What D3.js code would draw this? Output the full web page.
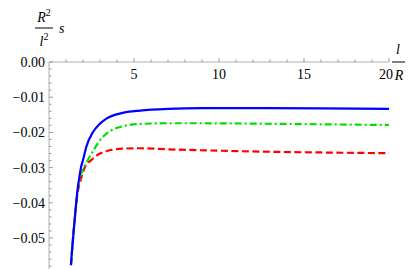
<!DOCTYPE html>
<html>
<head>
<meta charset="utf-8">
<script src="https://cdn.jsdelivr.net/npm/d3@7"></script>
<style>
  body { margin: 0; background: #fff; }
  svg { display: block; }
</style>
</head>
<body>
<svg id="chart"></svg>
<script>
var width = 416; // size of the page
var height = 269;
var fontFamily = "'Liberation Serif', 'Times New Roman', Times, 'DejaVu Serif', serif";

// tick values of both axes
var xMajorTicks = [5, 10, 15, 20];
var xMinorTicks = d3.range(1, 21);
var yMajorTicks = [0, -0.01, -0.02, -0.03, -0.04, -0.05];
var yMinorTicks = d3.range(0, -0.0589, -0.002);

// curves: [l/R, R^2 s / l^2]
var blueSeries = [[1.29,-0.0577],[1.38,-0.052],[1.47,-0.047],[1.57,-0.0415],[1.66,-0.037],[1.76,-0.0335],
  [1.88,-0.030],[2.02,-0.0275],[2.2,-0.024],[2.6,-0.0198],[3.0,-0.0175],[3.4,-0.016],[4.4,-0.0144],
  [5.35,-0.0138],[7,-0.0133],[9,-0.0131],[12,-0.0131],[16,-0.0132],[20,-0.0133]];
var greenSeries = [[1.29,-0.0577],[1.38,-0.052],[1.47,-0.047],[1.57,-0.0418],[1.66,-0.0375],[1.8,-0.0335],
  [1.95,-0.031],[2.2,-0.0286],[2.6,-0.0252],[3.0,-0.0222],[3.4,-0.0203],[4.4,-0.0182],[5.35,-0.0176],
  [7,-0.0174],[9,-0.0174],[12,-0.0175],[16,-0.0177],[20,-0.0179]];
var redSeries = [[1.29,-0.0577],[1.38,-0.052],[1.47,-0.047],[1.57,-0.042],[1.66,-0.038],[1.86,-0.0335],
  [2.1,-0.030],[2.5,-0.0278],[3.0,-0.026],[3.4,-0.0253],[4.4,-0.0246],[5.35,-0.0245],[7,-0.0248],
  [10,-0.0252],[13,-0.0255],[16,-0.0257],[20,-0.0259]];

var svg = d3.select("#chart")
    .attr("width", width)
    .attr("height", height)
    .attr("font-family", fontFamily);

// Scales
var x = d3.scaleLinear().domain([0, 20]).range([49, 389]);
var y = d3.scaleLinear().domain([0, -0.0588]).range([62, 269]);

var axisColor = "#b0b0b0";

// x axis line and ticks (ticks point up)
svg.append("line")
    .attr("x1", x(0)).attr("x2", x(20))
    .attr("y1", y(0)).attr("y2", y(0))
    .attr("stroke", axisColor).attr("stroke-width", 1);

svg.selectAll(".xminor")
    .data(xMinorTicks)
    .enter().append("line")
    .attr("x1", function(d) { return x(d); })
    .attr("x2", function(d) { return x(d); })
    .attr("y1", y(0))
    .attr("y2", function(d) { return y(0) - (d % 5 === 0 ? 4 : 2.5); })
    .attr("stroke", "#999").attr("stroke-width", 1);

svg.selectAll(".xlabel")
    .data(xMajorTicks)
    .enter().append("text")
    .attr("x", function(d) { return d === 20 ? x(d) - 3 : x(d); })
    .attr("y", 79)
    .attr("text-anchor", "middle")
    .attr("font-size", 14)
    .text(function(d) { return d; });

// y axis line and ticks (ticks point right)
svg.append("line")
    .attr("x1", x(0)).attr("x2", x(0))
    .attr("y1", y(0)).attr("y2", height)
    .attr("stroke", axisColor).attr("stroke-width", 1);

svg.selectAll(".yminor")
    .data(yMinorTicks)
    .enter().append("line")
    .attr("x1", x(0))
    .attr("x2", function(d, i) { return x(0) + (i % 5 === 0 ? 4 : 2.5); })
    .attr("y1", function(d) { return y(d); })
    .attr("y2", function(d) { return y(d); })
    .attr("stroke", "#999").attr("stroke-width", 1);

svg.selectAll(".ylabel")
    .data(yMajorTicks)
    .enter().append("text")
    .attr("x", 45)
    .attr("y", function(d) { return y(d) + 5; })
    .attr("text-anchor", "end")
    .attr("font-size", 14)
    .text(function(d) { return d === 0 ? "0.00" : "\u2212" + d3.format(".2f")(-d); });

// axis labels: R^2/l^2 s and l/R
var yLab = svg.append("g").attr("font-style", "italic");
yLab.append("text").attr("x", 44).attr("y", 22).attr("text-anchor", "middle").attr("font-size", 14)
    .html('R<tspan font-size="10" font-style="normal" dy="-6">2</tspan>');
yLab.append("line").attr("x1", 35).attr("x2", 53).attr("y1", 28).attr("y2", 28)
    .attr("stroke", "#000").attr("stroke-width", 1);
yLab.append("text").attr("x", 44).attr("y", 46).attr("text-anchor", "middle").attr("font-size", 14)
    .html('l<tspan font-size="10" font-style="normal" dy="-6">2</tspan>');
yLab.append("text").attr("x", 59).attr("y", 33).attr("font-size", 14).text("s");

var xLab = svg.append("g").attr("font-style", "italic");
xLab.append("text").attr("x", 398).attr("y", 54).attr("text-anchor", "middle").attr("font-size", 14).text("l");
xLab.append("line").attr("x1", 392).attr("x2", 405).attr("y1", 62).attr("y2", 62)
    .attr("stroke", "#000").attr("stroke-width", 1);
xLab.append("text").attr("x", 399).attr("y", 80).attr("text-anchor", "middle").attr("font-size", 14).text("R");

// curves
svg.append("clipPath").attr("id", "plotclip")
  .append("rect").attr("x", x(0)).attr("y", y(0) - 5).attr("width", x(20) - x(0) + 5).attr("height", height);

var line = d3.line()
    .x(function(d) { return x(d[0]); })
    .y(function(d) { return y(d[1]); })
    .curve(d3.curveMonotoneX);

var series = [
    { data: redSeries, color: "#ff0000", dash: "7,3.5" },
    { data: greenSeries, color: "#00e000", dash: "7,3,2,3" },
    { data: blueSeries, color: "#0000ff", dash: null }
];

svg.selectAll(".curve")
    .data(series)
    .enter().append("path")
    .attr("clip-path", "url(#plotclip)")
    .attr("d", function(d) { return line(d.data); })
    .attr("fill", "none")
    .attr("stroke", function(d) { return d.color; })
    .attr("stroke-width", 2.2)
    .attr("stroke-dasharray", function(d) { return d.dash; });
</script>
</body>
</html>
